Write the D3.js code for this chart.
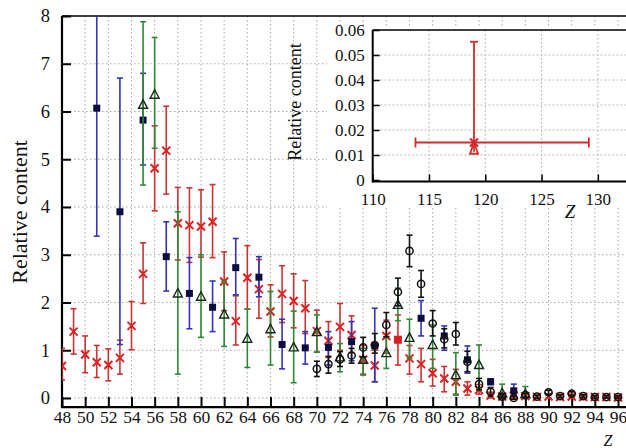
<!DOCTYPE html>
<html><head><meta charset="utf-8">
<script src="https://cdn.jsdelivr.net/npm/d3@7"></script>
<style>
html,body{margin:0;padding:0;background:#fff;}
svg{display:block;font-family:"Liberation Serif","Times New Roman",serif;}
</style></head>
<body><svg id="c" width="626" height="448"></svg>
<script>
// ---------- DATA ----------
// red crosses
const crossZ  = [48,49,50,51,52,53,54,55,56,57,58,59,60,61,62,63,64,65,66,67,68,69,70,71,72,73,74,75,76,78,79,80,81,82,83,84,85,86,87,88,89,90,91,92,93,94,95,96];
const crossV  = [0.67,1.39,0.91,0.75,0.69,0.84,1.51,2.60,4.81,5.18,3.66,3.62,3.59,3.69,2.44,1.61,2.52,2.28,1.81,2.18,2.03,1.88,1.40,1.20,1.49,1.32,0.80,0.68,1.30,0.83,0.71,0.52,0.41,0.34,0.20,0.17,0.05,0.03,0.05,0.04,0.02,0.03,0.02,0.03,0.02,0.02,0.02,0.01];
const crossLo = [0.38,0.92,0.53,0.43,0.36,0.50,1.01,1.98,3.92,4.27,2.89,2.84,2.95,2.94,1.83,1.11,1.86,1.67,1.28,1.58,1.47,1.35,0.96,0.85,1.00,0.95,0.50,0.34,0.94,0.50,0.34,0.25,0.13,0.08,0.06,0.08,0.00,0.00,0.00,0.00,0.00,0.00,0.00,0.00,0.00,0.00,0.00,0.00];
const crossHi = [1.04,1.87,1.30,1.10,1.03,1.21,2.02,3.25,5.70,6.11,4.41,4.40,4.36,4.47,3.06,2.14,3.19,2.90,2.37,2.77,2.60,2.46,1.84,1.60,1.98,1.72,1.10,1.00,1.63,1.10,1.04,0.81,0.66,0.60,0.34,0.28,0.12,0.08,0.12,0.09,0.05,0.07,0.05,0.07,0.05,0.04,0.04,0.03];
// blue error bars, filled squares
const squareZ  = [51,53,55,57,59,61,63,65,67,69,71,73,75,79,81,83,85,87];
const squareV  = [6.07,3.90,5.82,2.96,2.19,1.90,2.73,2.53,1.12,1.05,1.06,1.18,1.09,1.67,1.30,0.80,0.34,0.15];
const squareLo = [3.39,1.12,4.88,2.24,1.45,1.39,2.16,2.12,0.61,0.71,0.69,0.78,0.34,1.30,1.00,0.52,0.28,0.05];
const squareHi = [8.75,6.70,6.80,3.69,2.94,2.45,3.34,2.96,1.65,1.39,1.39,1.60,1.88,2.04,1.51,1.09,0.40,0.29];
// red filled square
const redSqZ  = [77];
const redSqV  = [1.22];
const redSqLo = [0.69];
const redSqHi = [1.74];
// green error bars, open triangles
const triZ  = [55,56,58,60,62,64,66,68,70,72,74,76,77,78,80,82,84,86,88];
const triV  = [6.14,6.35,2.19,2.12,1.75,1.24,1.44,1.06,1.38,0.85,0.80,0.94,1.95,1.26,1.11,0.48,0.69,0.10,0.08];
const triLo = [4.46,5.23,0.50,1.27,1.08,0.64,0.69,0.32,0.96,0.55,0.48,0.62,1.62,0.83,0.62,0.06,0.20,0.00,0.00];
const triHi = [7.88,7.55,3.90,3.00,2.44,1.86,2.23,1.82,1.74,1.14,1.04,1.28,2.30,1.65,1.53,0.95,1.11,0.29,0.24];
// black open circles
const circZ  = [70,71,72,73,74,75,76,77,78,79,80,81,82,83,84,85,86,87,88,89,90,91,92,93,94,95,96];
const circV  = [0.61,0.71,0.81,0.89,1.06,1.11,1.53,2.22,3.08,2.39,1.56,1.23,1.34,0.76,0.29,0.13,0.03,0.00,0.06,0.03,0.12,0.04,0.09,0.04,0.02,0.02,0.02];
const circLo = [0.45,0.52,0.66,0.73,0.86,0.94,1.28,1.93,2.75,2.11,1.30,1.05,1.11,0.55,0.17,0.04,0.00,-0.03,0.02,0.00,0.08,0.01,0.05,0.01,0.00,0.00,0.00];
const circHi = [0.77,0.87,0.97,1.04,1.27,1.35,1.79,2.51,3.41,2.67,1.83,1.45,1.58,0.98,0.41,0.22,0.07,0.04,0.10,0.06,0.16,0.07,0.13,0.07,0.05,0.05,0.05];
// axis ticks
const xTicks = d3.range(48, 97, 2);
const yTicks = [0,1,2,3,4,5,6,7,8];
// inset
const insetZ = [119];
const insetV = [0.015];
const insetLo = [0.0113];
const insetHi = [0.0553];
const insetZLo = [113.8];
const insetZHi = [129.2];
const insetXTicks = [110,115,120,125,130];
const insetYTicks = [0,0.01,0.02,0.03,0.04,0.05,0.06];

// ---------- DRAW ----------
const svg = d3.select("#c");
const x = d3.scaleLinear().domain([48, 96.69]).range([62, 626]);
const y = d3.scaleLinear().domain([0, 8]).range([398, 16]);
const yAxisPos = y(-0.19);
const GRID = "#a8a8a8";

const g = svg.append("g");
// grid
g.selectAll(".vg").data(xTicks.filter(d=>d>48)).join("line")
  .attr("x1",d=>x(d)).attr("x2",d=>x(d)).attr("y1",y(8)).attr("y2",y(0))
  .attr("stroke",GRID).attr("stroke-width",1).attr("stroke-dasharray","1.5,2.5");
g.selectAll(".hg").data(yTicks.filter(d=>d<8)).join("line")
  .attr("x1",x(48)).attr("x2",626).attr("y1",d=>y(d)).attr("y2",d=>y(d))
  .attr("stroke",GRID).attr("stroke-width",1).attr("stroke-dasharray","1.5,2.5");

// axes
const ax = svg.append("g").attr("transform",`translate(${x(48)},0)`)
  .call(d3.axisLeft(y).tickValues(yTicks).tickSizeInner(-9).tickSizeOuter(0).tickPadding(12).tickFormat(d3.format("d")));
ax.select(".domain").remove();
ax.selectAll("line").attr("stroke","#000").attr("stroke-width",2);
ax.selectAll("text").attr("font-size",18.5).attr("font-family","Liberation Serif, serif").attr("fill","#111");

const bx = svg.append("g").attr("transform",`translate(0,${yAxisPos})`)
  .call(d3.axisBottom(x).tickValues(xTicks).tickSizeInner(-10).tickSizeOuter(0).tickPadding(4).tickFormat(d3.format("d")));
bx.select(".domain").remove();
bx.selectAll("line").attr("stroke","#000").attr("stroke-width",2);
bx.selectAll("text").attr("font-size",17.5).attr("font-family","Liberation Serif, serif").attr("fill","#111");

svg.append("line").attr("x1",x(48)).attr("x2",x(48)).attr("y1",y(8)).attr("y2",yAxisPos+1)
  .attr("stroke","#000").attr("stroke-width",2.2);
svg.append("line").attr("x1",x(48)-1).attr("x2",626).attr("y1",yAxisPos).attr("y2",yAxisPos)
  .attr("stroke","#000").attr("stroke-width",2.2);
svg.append("line").attr("x1",x(48)).attr("x2",626).attr("y1",y(8)).attr("y2",y(8))
  .attr("stroke","#000").attr("stroke-width",1.6);

// labels
svg.append("text").attr("transform","translate(27,212) rotate(-90)").attr("text-anchor","middle")
  .attr("font-size",22).attr("fill","#111").text("Relative content");
svg.append("text").attr("x",608).attr("y",446).attr("font-size",16).attr("font-style","italic")
  .attr("text-anchor","middle").attr("fill","#111").text("Z");

// data
svg.append("clipPath").attr("id","pc").append("rect")
  .attr("x",x(48)).attr("y",y(8)).attr("width",626-x(48)).attr("height",yAxisPos-y(8));
const data = svg.append("g").attr("clip-path","url(#pc)");
const CAP = 3;

function errBars(sel, Z, Lo, Hi, color, sw){
  const gg = sel.append("g").attr("stroke",color).attr("stroke-width",sw||1.5).attr("fill","none");
  Z.forEach((z,i)=>{
    const cx = x(z);
    gg.append("line").attr("x1",cx).attr("x2",cx).attr("y1",y(Lo[i])).attr("y2",y(Hi[i]));
    gg.append("line").attr("x1",cx-CAP).attr("x2",cx+CAP).attr("y1",y(Lo[i])).attr("y2",y(Lo[i]));
    gg.append("line").attr("x1",cx-CAP).attr("x2",cx+CAP).attr("y1",y(Hi[i])).attr("y2",y(Hi[i]));
  });
}
// red crosses
errBars(data, crossZ, crossLo, crossHi, "#cc3333", 1.6);
data.append("g").selectAll("path").data(crossZ).join("path")
  .attr("d",(z,i)=>{const cx=x(z), cy=y(crossV[i]), r=4;
    return `M${cx-r},${cy-r}L${cx+r},${cy+r}M${cx-r},${cy+r}L${cx+r},${cy-r}`;})
  .attr("stroke","#e02020").attr("stroke-width",2).attr("fill","none");
// red square
errBars(data, redSqZ, redSqLo, redSqHi, "#d83030", 1.6);
data.append("g").selectAll("rect").data(redSqZ).join("rect")
  .attr("x",z=>x(z)-4).attr("y",(z,i)=>y(redSqV[i])-4).attr("width",8).attr("height",8)
  .attr("fill","#d82020");
// blue squares
errBars(data, squareZ, squareLo, squareHi, "#3333b8", 1.6);
data.append("g").selectAll("rect").data(squareZ).join("rect")
  .attr("x",z=>x(z)-3.5).attr("y",(z,i)=>y(squareV[i])-3.5).attr("width",7).attr("height",7)
  .attr("fill","#0c0c40");
// green triangles
errBars(data, triZ, triLo, triHi, "#2e8a35", 1.6);
data.append("g").selectAll("path").data(triZ).join("path")
  .attr("d",(z,i)=>{const cx=x(z), cy=y(triV[i]);
    return `M${cx},${cy-5}L${cx+4.5},${cy+3.5}L${cx-4.5},${cy+3.5}Z`;})
  .attr("stroke","#1a2a1a").attr("stroke-width",1.4).attr("fill","none");
// black circles
errBars(data, circZ, circLo, circHi, "#111", 1.6);
data.append("g").selectAll("circle").data(circZ).join("circle")
  .attr("cx",z=>x(z)).attr("cy",(z,i)=>y(circV[i])).attr("r",3.6)
  .attr("stroke","#111").attr("stroke-width",1.5).attr("fill","none");

// ---------- INSET ----------
const xi = d3.scaleLinear().domain([110, 132.5]).range([372.7, 626]);
const yi = d3.scaleLinear().domain([0, 0.06]).range([180, 30]);
const ins = svg.append("g");
ins.append("rect").attr("x",327).attr("y",28).attr("width",299).attr("height",180).attr("fill","#fff");
ins.selectAll(".ivg").data(insetXTicks.filter(d=>d>110)).join("line")
  .attr("x1",d=>xi(d)).attr("x2",d=>xi(d)).attr("y1",yi(0.06)).attr("y2",yi(0))
  .attr("stroke",GRID).attr("stroke-width",1).attr("stroke-dasharray","1.5,2.5");
ins.selectAll(".ihg").data(insetYTicks.filter(d=>d>0&&d<0.06)).join("line")
  .attr("x1",xi(110)).attr("x2",626).attr("y1",d=>yi(d)).attr("y2",d=>yi(d))
  .attr("stroke",GRID).attr("stroke-width",1).attr("stroke-dasharray","1.5,2.5");
const iax = ins.append("g").attr("transform",`translate(${xi(110)},0)`)
  .call(d3.axisLeft(yi).tickValues(insetYTicks).tickSizeInner(-7).tickSizeOuter(0).tickPadding(8)
    .tickFormat(d=>d===0?"0":d3.format(".2f")(d)));
iax.select(".domain").remove();
iax.selectAll("line").attr("stroke","#000").attr("stroke-width",1.5);
iax.selectAll("text").attr("font-size",17).attr("font-family","Liberation Serif, serif").attr("fill","#111");
const ibx = ins.append("g").attr("transform",`translate(0,${yi(0)+1.5})`)
  .call(d3.axisBottom(xi).tickValues(insetXTicks).tickSizeInner(-7).tickSizeOuter(0).tickPadding(11).tickFormat(d3.format("d")));
ibx.select(".domain").remove();
ibx.selectAll("line").attr("stroke","#000").attr("stroke-width",1.5);
ibx.selectAll("text").attr("font-size",17).attr("font-family","Liberation Serif, serif").attr("fill","#111");
ins.append("line").attr("x1",xi(110)).attr("x2",xi(110)).attr("y1",yi(0.06)).attr("y2",yi(0)+2.5)
  .attr("stroke","#000").attr("stroke-width",2);
ins.append("line").attr("x1",xi(110)).attr("x2",626).attr("y1",yi(0)+1.5).attr("y2",yi(0)+1.5)
  .attr("stroke","#000").attr("stroke-width",2);
ins.append("line").attr("x1",xi(110)).attr("x2",626).attr("y1",yi(0.06)).attr("y2",yi(0.06))
  .attr("stroke","#000").attr("stroke-width",1.5);
ins.append("text").attr("transform","translate(301,102) rotate(-90)").attr("text-anchor","middle")
  .attr("font-size",18).attr("fill","#111").text("Relative content");
ins.append("text").attr("x",570).attr("y",218).attr("font-size",19).attr("font-style","italic")
  .attr("text-anchor","middle").attr("fill","#111").text("Z");
// inset point
const ig = ins.append("g").attr("stroke","#d42a2a").attr("stroke-width",1.8).attr("fill","none");
insetZ.forEach((z,i)=>{
  const cx=xi(z), cy=yi(insetV[i]);
  ig.append("line").attr("x1",cx).attr("x2",cx).attr("y1",yi(insetLo[i])).attr("y2",yi(insetHi[i]));
  ig.append("line").attr("x1",cx-4).attr("x2",cx+4).attr("y1",yi(insetHi[i])).attr("y2",yi(insetHi[i]));
  ig.append("line").attr("x1",xi(insetZLo[i])).attr("x2",xi(insetZHi[i])).attr("y1",cy).attr("y2",cy);
  ig.append("line").attr("x1",xi(insetZLo[i])).attr("x2",xi(insetZLo[i])).attr("y1",cy-5).attr("y2",cy+5);
  ig.append("line").attr("x1",xi(insetZHi[i])).attr("x2",xi(insetZHi[i])).attr("y1",cy-5).attr("y2",cy+5);
  ig.append("path").attr("d",`M${cx-4},${cy-4}L${cx+4},${cy+4}M${cx-4},${cy+4}L${cx+4},${cy-4}`).attr("stroke-width",2.2);
  ig.append("path").attr("d",`M${cx},${cy}L${cx+4},${yi(insetLo[i])+2}L${cx-4},${yi(insetLo[i])+2}Z`);
});
</script></body></html>
